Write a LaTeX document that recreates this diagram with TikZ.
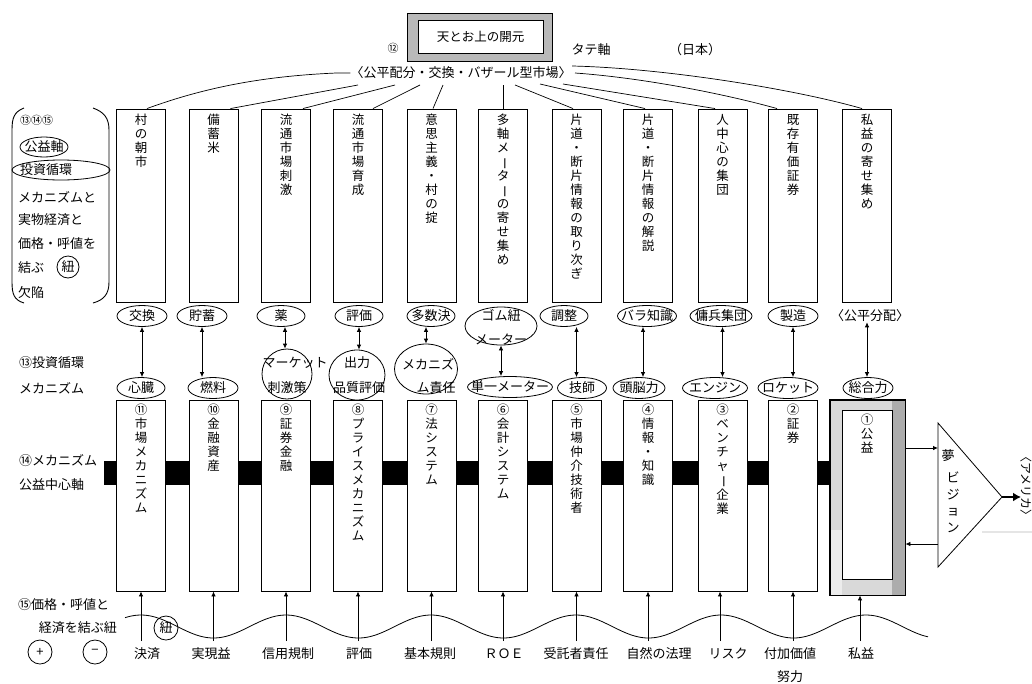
\documentclass[tikz,border=0pt]{standalone}
\usepackage{fontspec}
\usepackage{graphicx}
\setmainfont{Noto Sans CJK JP}
\usetikzlibrary{shapes.geometric,arrows.meta,calc}
\newcommand{\vcho}{\rotatebox[origin=c]{-90}{ー}}
\newcommand{\ov}[4]{\node[oval,minimum width=#3] (#1) at (#2) {}; \node (#1t) at (#1.center) {#4};}
\begin{document}
\begin{tikzpicture}[x=1pt,y=-1pt,
  every node/.style={font=\fontsize{13}{14}\selectfont, inner sep=0pt},
  box/.style={draw, line width=0.9pt, minimum width=49, inner sep=0pt},
  ubox/.style={box, minimum height=193},
  lbox/.style={box, minimum height=191},
  vtxt/.style={anchor=north, align=center, font=\fontsize{12.5}{14}\selectfont},
  oval/.style={draw, ellipse, line width=0.8pt, minimum height=21, inner sep=0pt},
  darr/.style={{Latex[length=5pt,width=4.5pt]}-{Latex[length=5pt,width=4.5pt]}, line width=0.8pt},
  uarr/.style={-{Latex[length=5pt,width=4.5pt]}, line width=0.8pt},
  conn/.style={line width=0.7pt},
  lbl/.style={anchor=west}
]
\useasboundingbox (0,0) rectangle (1032,683);
\fill[white] (0,0) rectangle (1032,683);

% ---------- top ----------
\node[draw, line width=0.8pt, fill=gray!55, minimum width=145, minimum height=48] (topo) at (479.5,37) {};
\node[draw, line width=0.8pt, fill=white, minimum width=125, minimum height=33, font=\fontsize{12.5}{14}\selectfont] (topb) at (480.5,36.5) {天とお上の開元};
\node[font=\fontsize{11}{12}\selectfont] (n12) at (393,48) {⑫};
\node (tate) at (591,50) {タテ軸};
\node (jp) at (695,50) {（日本）};
\node (top) at (461,73) {〈公平配分・交換・バザール型市場〉};

% ---------- upper boxes ----------
\foreach \i/\x in {1/141,2/213.5,3/286,4/358,5/431.5,6/503,7/576.5,8/648,9/722.5,10/793,11/867}{
  \node[ubox] (u\i) at (\x,205.5) {};
}
\node[vtxt] (ut1) at (u1.north |- 0,114) {村\\の\\朝\\市};
\node[vtxt] (ut2) at (u2.north |- 0,114) {備\\蓄\\米};
\node[vtxt] (ut3) at (u3.north |- 0,114) {流\\通\\市\\場\\刺\\激};
\node[vtxt] (ut4) at (u4.north |- 0,114) {流\\通\\市\\場\\育\\成};
\node[vtxt] (ut5) at (u5.north |- 0,114) {意\\思\\主\\義\\・\\村\\の\\掟};
\node[vtxt] (ut6) at (u6.north |- 0,114) {多\\軸\\メ\\\vcho\\タ\\\vcho\\の\\寄\\せ\\集\\め};
\node[vtxt] (ut7) at (u7.north |- 0,114) {片\\道\\・\\断\\片\\情\\報\\の\\取\\り\\次\\ぎ};
\node[vtxt] (ut8) at (u8.north |- 0,114) {片\\道\\・\\断\\片\\情\\報\\の\\解\\説};
\node[vtxt] (ut9) at (u9.north |- 0,114) {人\\中\\心\\の\\集\\団};
\node[vtxt] (ut10) at (u10.north |- 0,114) {既\\存\\有\\価\\証\\券};
\node[vtxt] (ut11) at (u11.north |- 0,114) {私\\益\\の\\寄\\せ\\集\\め};

% ---------- connectors from top text ----------
\coordinate (s2) at (358,85);
\coordinate (s3) at (395,85);
\coordinate (s4) at (420,85);
\coordinate (s5) at (443,85);
\coordinate (s6) at (503,85);
\coordinate (s7) at (515,85);
\coordinate (s8) at (540,84);
\coordinate (s9) at (563,84);
\coordinate (s10) at (575,73);
\coordinate (s11) at (572,66);
\draw[conn] (top.west) -- ++(-14,0) .. controls +(-70,3) and +(60,-22) .. ($(u1.north)+(6,0)$);
\draw[conn] (s2) -- ($(u2.north)+(17,0)$);
\draw[conn] (s3) -- ($(u3.north)+(17,0)$);
\draw[conn] (s4) -- ($(u4.north)+(15,0)$);
\draw[conn] (s5) -- ($(u5.north)+(1.5,0)$);
\draw[conn] (s6) -- (u6.north);
\draw[conn] (s7) -- ($(u7.north)+(-3.5,0)$);
\draw[conn] (s8) -- ($(u8.north)+(-3,0)$);
\draw[conn] (s9) -- ($(u9.north)+(-7.5,0)$);
\draw[conn] (s10) .. controls +(70,5) and +(-50,-14) .. ($(u10.north)+(-16,0)$);
\draw[conn] (s11) .. controls +(90,2) and +(-70,-20) .. ($(u11.north)+(-5,0)$);

% ---------- upper ovals ----------
\ov{e1}{142,316}{50}{交換}
\ov{e2}{202,316}{50}{貯蓄}
\ov{e3}{281,316}{48}{薬}
\ov{e4}{359,316}{48}{評価}
\ov{e5}{431,316}{48}{多数決}
\node[oval, minimum width=72, minimum height=38] (e6) at (501,326) {};
\node (e6a) at (501,315) {ゴム紐};
\node (e6b) at (501,339) {メーター};
\ov{e7}{564,316}{48}{調整}
\ov{e8}{647,316}{59}{バラ知識}
\ov{e9}{721,316}{62}{傭兵集団}
\ov{e10}{793,316}{50}{製造}
\node (e11) at (870,316) {〈公平分配〉};

% ---------- lower ovals ----------
\ov{f1}{141,388}{48}{心臓}
\ov{f2}{213,388}{50}{燃料}
\node[draw, circle, line width=0.8pt, minimum size=50] (f3) at (287,374) {};
\node (f3a) at (295,363) {マーケット};
\node (f3b) at (287,388) {刺激策};
\node[oval, minimum width=56, minimum height=50] (f4) at (357,375) {};
\node (f4a) at (357,363) {出力};
\node (f4b) at (359,388) {品質評価};
\node[oval, minimum width=63, minimum height=50] (f5) at (426,369) {};
\node (f5a) at (428,364) {メカニズ};
\node (f5b) at (436,388) {ム責任};
\ov{f6}{510,387}{85}{単一メーター}
\ov{f7}{582,388}{49}{技師}
\ov{f8}{639,388}{52}{頭脳力}
\ov{f9}{715,388}{65}{エンジン}
\ov{f10}{788,388}{60}{ロケット}
\ov{f11}{868,388}{50}{総合力}

% ---------- double arrows ----------
\draw[darr] (e1.south) -- (e1.south |- f1.north);
\draw[darr] (e2.south) -- (e2.south |- f2.north);
\draw[darr] ($(e3.south)+(4,0)$) -- ($(f3.north)+(-2,0)$);
\draw[darr] (e4.south) -- (e4.south |- f4.north);
\draw[darr] (e5.south -| f5.north) -- (f5.north);
\draw[darr] (e6.south) -- (e6.south |- f6.north);
\draw[darr] (e7.south -| u7.south) -- (f7.north -| u7.south);
\draw[darr] ($(e8.south)+(-4,0)$) -- ($(e8.south |- f8.north)+(-4,0)$);
\draw[darr] (e9.south -| u9.south) -- (f9.north -| u9.south);
\draw[darr] (e10.south -| u10.south) -- (f10.north -| u10.south);
\draw[darr] (e11.south -| u11.south) -- (f11.north -| u11.south);

% ---------- lower boxes ----------
\foreach \i/\x in {1/141,2/213.5,3/286,4/358,5/431.5,6/503,7/576.5,8/648,9/722.5,10/793}{
  \node[lbox] (l\i) at (\x,495.5) {};
}
\node[draw, line width=0.8pt, fill=gray!30, minimum width=75, minimum height=195] (fr11) at (867.5,497.5) {};
\fill[gray!65] (892,401) rectangle (904.5,594.5);
\fill[gray!15] (830.5,530) -- (842,530) -- (842,594.5) -- (830.5,594.5) -- cycle;
\draw[line width=0.8pt] (fr11.north west) rectangle (fr11.south east);
\node[draw, line width=0.9pt, fill=white, minimum width=50, minimum height=169] (l11) at (867,494.5) {};

\node[vtxt] (lt1) at (l1.north |- 0,404) {⑪\\市\\場\\メ\\カ\\ニ\\ズ\\ム};
\node[vtxt] (lt2) at (l2.north |- 0,404) {⑩\\金\\融\\資\\産};
\node[vtxt] (lt3) at (l3.north |- 0,404) {⑨\\証\\券\\金\\融};
\node[vtxt] (lt4) at (l4.north |- 0,404) {⑧\\プ\\ラ\\イ\\ス\\メ\\カ\\ニ\\ズ\\ム};
\node[vtxt] (lt5) at (l5.north |- 0,404) {⑦\\法\\シ\\ス\\テ\\ム};
\node[vtxt] (lt6) at (l6.north |- 0,404) {⑥\\会\\計\\シ\\ス\\テ\\ム};
\node[vtxt] (lt7) at (l7.north |- 0,404) {⑤\\市\\場\\仲\\介\\技\\術\\者};
\node[vtxt] (lt8) at (l8.north |- 0,404) {④\\情\\報\\・\\知\\識};
\node[vtxt] (lt9) at (l9.north |- 0,404) {③\\ベ\\ン\\チ\\ャ\\\vcho\\企\\業};
\node[vtxt] (lt10) at (l10.north |- 0,404) {②\\証\\券};
\node[vtxt] (lt11) at (l11.north |- 0,414) {①\\公\\益};

% ---------- black bars ----------
\coordinate (bt) at (0,461);
\coordinate (bb) at (0,485);
\fill ($(l1.west |- bt)+(-12,0)$) rectangle (l1.west |- bb);
\foreach \i/\j in {1/2,2/3,3/4,4/5,5/6,6/7,7/8,8/9,9/10}{
  \fill (l\i.east |- bt) rectangle (l\j.west |- bb);
}
\fill (l10.east |- bt) rectangle (fr11.west |- bb);

% ---------- triangle ----------
\coordinate (tA) at (938,423);
\coordinate (tB) at (938,567);
\coordinate (tC) at (1002,497);
\draw[line width=0.8pt] (tA) -- (tB) -- (tC) -- cycle;
\coordinate (ya) at (0,448);
\coordinate (yb) at (0,544);
\draw[uarr] (fr11.east |- ya) -- (tA |- ya);
\draw[uarr] (tA |- yb) -- (fr11.east |- yb);
\coordinate (am) at (1021,497);
\draw[line width=2.2pt, -{Latex[length=8pt,width=9pt]}] (tC) -- (am);
\node (yume) at (948,456) {夢};
\node[vtxt, font=\fontsize{13}{16.5}\selectfont] (vis) at (953,472) {ビ\\ジ\\ョ\\ン};
\node[rotate=-90, font=\fontsize{12}{13}\selectfont] (usa) at (1026,486) {〈アメリカ〉};
\draw[gray!20, line width=1.5pt] (982,532) -- (1032,532);

% ---------- wave and bottom ----------
\draw[line width=0.8pt] plot[domain=125:928, samples=160, smooth] (\x, {626.5-11.5*cos((\x-141)/145*360)});
\foreach \i/\x in {1/141,2/213.5,3/286,4/358,5/431.5,6/503,7/576.5,8/648,9/720,10/793}{
  \coordinate (w\i) at (\x,641);
  \draw[uarr] (w\i) -- (w\i |- l\i.south);
}
\coordinate (w11) at (860,641);
\draw[uarr] (w11) -- (w11 |- fr11.south);
\node (bl1) at (147,654) {決済};
\node (bl2) at (211,654) {実現益};
\node (bl3) at (288,654) {信用規制};
\node (bl4) at (359,654) {評価};
\node (bl5) at (430,654) {基本規則};
\node (bl6) at (504,654) {ＲＯＥ};
\node (bl7) at (576,654) {受託者責任};
\node (bl8) at (659,654) {自然の法理};
\node (bl9) at (728,654) {リスク};
\node (bl10) at (790,654) {付加価値};
\node (bl11) at (861,654) {私益};
\node (bl12) at (790,677) {努力};
\node[draw, circle, line width=0.8pt, minimum size=24] (himo) at (166,628) {紐};
\node[lbl] (p15) at (18,605) {⑮価格・呼値と};
\node[anchor=east] (p15b) at (117,628) {経済を結ぶ紐};
\node[draw, circle, line width=0.8pt, minimum size=24] (plus) at (40,652) {+};
\node[draw, circle, line width=0.8pt, minimum size=24] (minus) at (95,652) {−};

% ---------- left labels ----------
\node[lbl] (m13) at (19,363) {⑬投資循環};
\node[lbl] (m13b) at (19,388) {メカニズム};
\node[lbl] (m14) at (19,461) {⑭メカニズム};
\node[lbl] (m14b) at (19,485) {公益中心軸};

% ---------- bracket block ----------
\draw[line width=0.9pt] (24,108) .. controls (14,112) and (12,118) .. (12,130) -- (12,282) .. controls (12,294) and (14,300) .. (24,303);
\draw[line width=0.9pt] (93,108) .. controls (104,112) and (109,118) .. (109,130) -- (109,282) .. controls (109,294) and (104,300) .. (93,303);
\node[lbl, font=\fontsize{11}{12}\selectfont] (k1) at (20,120) {⑬⑭⑮};
\node[draw, ellipse, line width=0.8pt, minimum width=48, minimum height=20] (k2e) at (44,147) {};
\node (k2) at (k2e.center) {公益軸};
\node[draw, ellipse, line width=0.8pt, minimum width=98, minimum height=20] (k3e) at (61,170) {};
\node[lbl] (k3) at (20,170) {投資循環};
\node[lbl] (k4) at (18,197) {メカニズムと};
\node[lbl] (k5) at (18,220) {実物経済と};
\node[lbl] (k6) at (18,244) {価格・呼値を};
\node[lbl] (k7) at (18,268) {結ぶ};
\node[draw, circle, line width=0.8pt, minimum size=22] (k7c) at (68,267) {紐};
\node[lbl] (k8) at (18,292) {欠陥};
\end{tikzpicture}
\end{document}
